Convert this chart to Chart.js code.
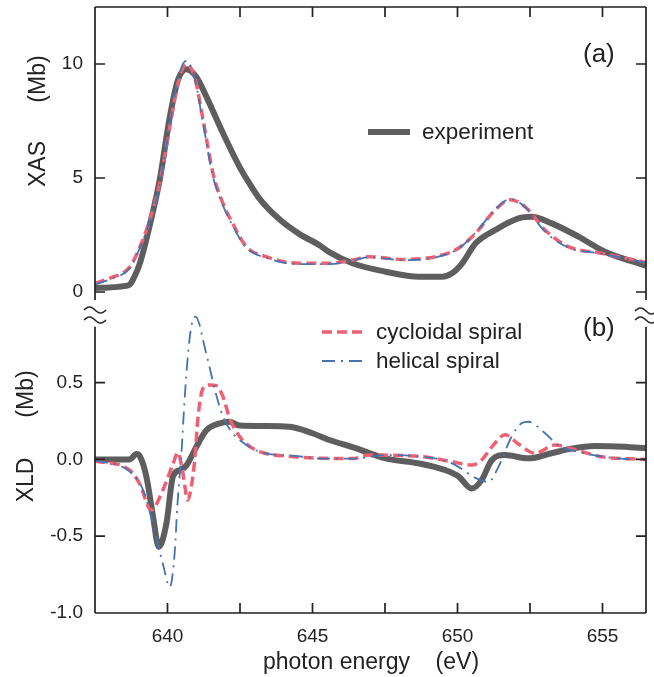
<!DOCTYPE html>
<html>
<head>
<meta charset="utf-8">
<script src="https://cdn.jsdelivr.net/npm/chart.js@4.4.1/dist/chart.umd.min.js"></script>
<style>
    html, body { margin: 0; padding: 0; background: #fff; }
    #wrap { position: relative; width: 654px; height: 677px; }
    #wrap canvas { position: absolute; left: 0; top: 0; }
</style>
</head>
<body>
<div id="wrap">
    <canvas id="xas-chart" width="654" height="677"></canvas>
    <canvas id="xld-chart" width="654" height="677"></canvas>
</div>
<script>
// photon energy ticks (eV)
const xMajorTicks = [640, 645, 650, 655];
const xMinorTicks = [642.5, 647.5, 652.5];
const xasTicks = [0, 5, 10];
const xldTicks = [-1.0, -0.5, 0.0, 0.5];

// (a) XAS, experiment
const xasExpE = [637.5, 638.0, 638.5, 638.7, 638.85, 639.05, 639.39, 639.73, 640.08, 640.36, 640.65, 640.99, 641.34, 641.91, 642.48, 642.83, 643.17, 643.85, 644.54, 645.23, 645.58, 646.38, 647.52, 648.67, 649.47, 649.81, 650.16, 650.62, 651.3, 652.1, 652.56, 653.25, 654.17, 655.08, 656.5];
const xasExpY = [0.18, 0.2, 0.26, 0.33, 0.65, 1.27, 2.94, 4.91, 7.68, 9.3, 9.77, 9.44, 8.57, 6.97, 5.5, 4.75, 4.1, 3.2, 2.55, 2.06, 1.75, 1.26, 0.89, 0.67, 0.67, 0.82, 1.26, 2.13, 2.72, 3.23, 3.3, 3.01, 2.43, 1.77, 1.16];

// (a) XAS, calculations
const xasCalcE = [637.5, 638.02, 638.7, 639.05, 639.39, 639.73, 640.08, 640.36, 640.65, 640.94, 641.22, 641.57, 641.91, 642.25, 642.71, 643.4, 644.54, 645.58, 646.38, 646.95, 648.1, 649.24, 650.03, 650.62, 651.3, 651.82, 652.33, 653.02, 653.82, 654.97, 656.5];
const xasCycY = [0.39, 0.61, 1.1, 1.99, 3.16, 4.77, 7.25, 9.15, 10.0, 9.4, 7.6, 5.2, 3.9, 3.0, 2.0, 1.55, 1.26, 1.26, 1.40, 1.55, 1.43, 1.55, 1.92, 2.57, 3.6, 4.05, 3.74, 2.72, 1.99, 1.70, 1.30];
const xasHelY = [0.33, 0.56, 1.05, 1.95, 3.1, 4.7, 7.3, 9.35, 10.15, 9.35, 7.45, 5.05, 3.8, 2.9, 1.95, 1.5, 1.22, 1.22, 1.38, 1.52, 1.40, 1.52, 1.9, 2.6, 3.62, 4.08, 3.72, 2.65, 1.95, 1.68, 1.28];

// (b) XLD, experiment
const xldExpE = [637.5, 638.7, 638.93, 639.05, 639.27, 639.5, 639.7, 639.96, 640.19, 640.42, 640.65, 640.99, 641.34, 641.8, 642.14, 642.48, 643.4, 644.2, 645.0, 645.58, 646.38, 647.52, 648.67, 649.58, 650.03, 650.49, 650.83, 651.18, 651.64, 652.44, 653.24, 653.93, 654.73, 655.76, 656.5];
const xldExpY = [0.0, 0.0, 0.035, 0.02, -0.11, -0.37, -0.57, -0.42, -0.11, -0.07, -0.04, 0.08, 0.19, 0.235, 0.245, 0.22, 0.217, 0.213, 0.17, 0.126, 0.08, 0.007, -0.026, -0.07, -0.11, -0.19, -0.135, -0.005, 0.028, 0.007, 0.04, 0.07, 0.087, 0.082, 0.072];

// (b) XLD, cycloidal spiral
const xldCycE = [637.5, 638.7, 639.04, 639.44, 639.84, 640.19, 640.36, 640.53, 640.7, 640.8, 640.94, 641.05, 641.22, 641.45, 641.68, 641.91, 642.14, 642.48, 642.8, 643.17, 644.2, 645.4, 646.38, 646.95, 648.67, 649.81, 650.49, 650.83, 651.18, 651.64, 652.1, 652.67, 653.36, 653.93, 654.97, 656.5];
const xldCycY = [-0.01, -0.07, -0.16, -0.33, -0.20, -0.03, 0.045, -0.09, -0.265, -0.2, 0.0, 0.27, 0.46, 0.485, 0.48, 0.41, 0.27, 0.15, 0.09, 0.05, 0.02, 0.007, 0.005, 0.028, 0.02, -0.015, -0.037, -0.005, 0.08, 0.16, 0.10, 0.04, 0.093, 0.07, 0.017, 0.0];

// (b) XLD, helical spiral
const xldHelE = [637.5, 638.7, 639.16, 639.5, 639.84, 640.08, 640.25, 640.34, 640.48, 640.59, 640.7, 640.82, 640.97, 641.1, 641.22, 641.45, 641.68, 641.91, 642.25, 642.6, 643.17, 644.54, 645.4, 646.38, 647.52, 648.67, 649.81, 650.62, 651.07, 651.41, 651.87, 652.21, 652.44, 653.02, 653.47, 654.39, 655.53, 656.5];
const xldHelY = [-0.005, -0.08, -0.2, -0.42, -0.68, -0.83, -0.6, -0.3, 0.04, 0.39, 0.67, 0.865, 0.93, 0.88, 0.78, 0.6, 0.42, 0.28, 0.17, 0.11, 0.05, 0.02, 0.005, 0.005, 0.028, 0.02, -0.026, -0.12, -0.146, -0.05, 0.15, 0.235, 0.245, 0.17, 0.093, 0.04, 0.007, 0.0];

const FONT = '"Liberation Sans", Arial, Helvetica, sans-serif';
const INK = '#222222';
const GREY = '#5e5e5e';
const RED = '#ef6072';
const BLUE = '#4474b2';

function pts(xs, ys) {
    return xs.map((x, i) => ({ x: x, y: ys[i] }));
}

function expSet(label, xs, ys) {
    return {
        label: label, data: pts(xs, ys), borderColor: GREY, borderWidth: 6,
        pointRadius: 0, cubicInterpolationMode: 'monotone', order: 3, clip: false
    };
}
function cycSet(label, xs, ys) {
    return {
        label: label, data: pts(xs, ys), borderColor: RED, borderWidth: 3.5,
        borderDash: [10, 5], pointRadius: 0, cubicInterpolationMode: 'monotone', order: 2, clip: false
    };
}
function helSet(label, xs, ys) {
    return {
        label: label, data: pts(xs, ys), borderColor: BLUE, borderWidth: 1.8,
        borderDash: [13, 6, 2, 6], pointRadius: 0, cubicInterpolationMode: 'monotone', order: 1, clip: false
    };
}

// frame, inward ticks, titles, legend and labels
const framePlugin = {
    id: 'frame',
    afterDraw(chart, args, o) {
        const ctx = chart.ctx;
        const a = chart.chartArea;
        const x = chart.scales.x, y = chart.scales.y;
        const top = o.axisTop !== undefined ? y.getPixelForValue(o.axisTop) : a.top;
        ctx.save();
        ctx.strokeStyle = INK;
        ctx.lineWidth = 1.7;
        ctx.setLineDash([]);
        ctx.beginPath();
        ctx.moveTo(a.left, top); ctx.lineTo(a.left, a.bottom);
        ctx.moveTo(a.right, top); ctx.lineTo(a.right, a.bottom);
        const edge = o.side === 'top' ? a.top : a.bottom;
        const dir = o.side === 'top' ? 1 : -1;
        ctx.moveTo(a.left, edge); ctx.lineTo(a.right, edge);
        o.yTicks.forEach(v => {
            const py = y.getPixelForValue(v);
            ctx.moveTo(a.left, py); ctx.lineTo(a.left + 10, py);
            ctx.moveTo(a.right, py); ctx.lineTo(a.right - 10, py);
        });
        xMajorTicks.concat(xMinorTicks).forEach(v => {
            const px = x.getPixelForValue(v);
            ctx.moveTo(px, edge); ctx.lineTo(px, edge + dir * 10);
        });
        ctx.stroke();

        // axis break marks
        if (o.breaks) {
            ctx.lineWidth = 1.5;
            o.breaks.forEach(b => {
                ctx.beginPath();
                for (let t = -11; t <= 11; t += 0.5) {
                    const yy = b[1] + 3 * Math.sin(Math.PI * t / 11);
                    if (t === -11) ctx.moveTo(b[0] + t, yy); else ctx.lineTo(b[0] + t, yy);
                }
                ctx.stroke();
            });
        }

        ctx.fillStyle = INK;
        // y title
        o.yTitle.forEach(t => {
            ctx.save();
            ctx.translate(t.x, t.y);
            ctx.rotate(-Math.PI / 2);
            ctx.font = '23px ' + FONT;
            ctx.textAlign = 'center';
            ctx.textBaseline = 'alphabetic';
            ctx.fillText(t.text, 0, 0);
            ctx.restore();
        });

        // panel label
        ctx.font = '26px ' + FONT;
        ctx.textAlign = 'left';
        ctx.textBaseline = 'alphabetic';
        ctx.fillText(o.panel.text, o.panel.x, o.panel.y);

        // x title
        if (o.xTitle) {
            ctx.font = '23px ' + FONT;
            ctx.textAlign = 'center';
            ctx.fillText(o.xTitle.text, o.xTitle.x, o.xTitle.y);
        }

        // legend drawn from the dataset styles
        o.legend.forEach(l => {
            const ds = chart.data.datasets[l.index];
            ctx.save();
            ctx.strokeStyle = ds.borderColor;
            ctx.lineWidth = l.width || ds.borderWidth;
            ctx.setLineDash(ds.borderDash || []);
            ctx.beginPath();
            ctx.moveTo(l.x, l.y); ctx.lineTo(l.x + 42, l.y);
            ctx.stroke();
            ctx.restore();
            ctx.font = '22.5px ' + FONT;
            ctx.textAlign = 'left';
            ctx.textBaseline = 'alphabetic';
            ctx.fillText(ds.label, l.x + 54, l.base);
        });
        ctx.restore();
    }
};

function yScale(min, max, ticks, fmt) {
    return {
        type: 'linear', min: min, max: max,
        afterFit: s => { s.width = 95; s.paddingTop = 0; s.paddingBottom = 0; },
        afterBuildTicks: s => { s.ticks = ticks.map(v => ({ value: v })); },
        grid: { display: false, drawTicks: false },
        border: { display: false },
        ticks: { padding: 12, color: INK, font: { family: FONT, size: 19 }, callback: fmt }
    };
}

new Chart(document.getElementById('xas-chart'), {
    type: 'line',
    data: {
        datasets: [
            expSet('experiment', xasExpE, xasExpY),
            cycSet('cycloidal spiral', xasCalcE, xasCycY),
            helSet('helical spiral', xasCalcE, xasHelY)
        ]
    },
    options: {
        responsive: false,
        animation: false,
        layout: { autoPadding: false, padding: { top: 7, left: 0, right: 8, bottom: 377 } },
        plugins: {
            legend: { display: false },
            tooltip: { enabled: false },
            frame: {
                side: 'top',
                yTicks: xasTicks,
                yTitle: [{ text: 'XAS', x: 45, y: 164 }, { text: '(Mb)', x: 45, y: 79 }],
                panel: { text: '(a)', x: 583, y: 62 },
                legend: [{ index: 0, x: 368, y: 132, base: 139, width: 6 }]
            }
        },
        scales: {
            x: {
                type: 'linear', min: 637.5, max: 656.5, display: false,
                afterFit: s => { s.height = 0; s.paddingLeft = 0; s.paddingRight = 0; }
            },
            y: yScale(-0.35, 12.5, xasTicks, v => String(v))
        }
    },
    plugins: [framePlugin]
});

new Chart(document.getElementById('xld-chart'), {
    type: 'line',
    data: {
        datasets: [
            expSet('experiment', xldExpE, xldExpY),
            cycSet('cycloidal spiral', xldCycE, xldCycY),
            helSet('helical spiral', xldHelE, xldHelY)
        ]
    },
    options: {
        responsive: false,
        animation: false,
        layout: { autoPadding: false, padding: { top: 315, left: 0, right: 8, bottom: 0 } },
        plugins: {
            legend: { display: false },
            tooltip: { enabled: false },
            frame: {
                side: 'bottom',
                axisTop: 0.863,
                yTicks: xldTicks,
                breaks: [[95, 310], [95, 320], [646, 311], [646, 320]],
                yTitle: [{ text: 'XLD', x: 33, y: 480 }, { text: '(Mb)', x: 33, y: 394 }],
                xTitle: { text: 'photon energy    (eV)', x: 371, y: 669 },
                panel: { text: '(b)', x: 583, y: 336 },
                legend: [
                    { index: 1, x: 322, y: 332, base: 339 },
                    { index: 2, x: 322, y: 361, base: 368 }
                ]
            }
        },
        scales: {
            x: {
                type: 'linear', min: 637.5, max: 656.5,
                afterFit: s => { s.height = 64; s.paddingLeft = 0; s.paddingRight = 0; },
                afterBuildTicks: s => { s.ticks = xMajorTicks.map(v => ({ value: v })); },
                grid: { display: false, drawTicks: false },
                border: { display: false },
                ticks: { padding: 12, color: INK, maxRotation: 0, font: { family: FONT, size: 19 }, callback: v => String(v) }
            },
            y: yScale(-1.0, 0.94, xldTicks, v => v.toFixed(1))
        }
    },
    plugins: [framePlugin]
});
</script>
</body>
</html>
